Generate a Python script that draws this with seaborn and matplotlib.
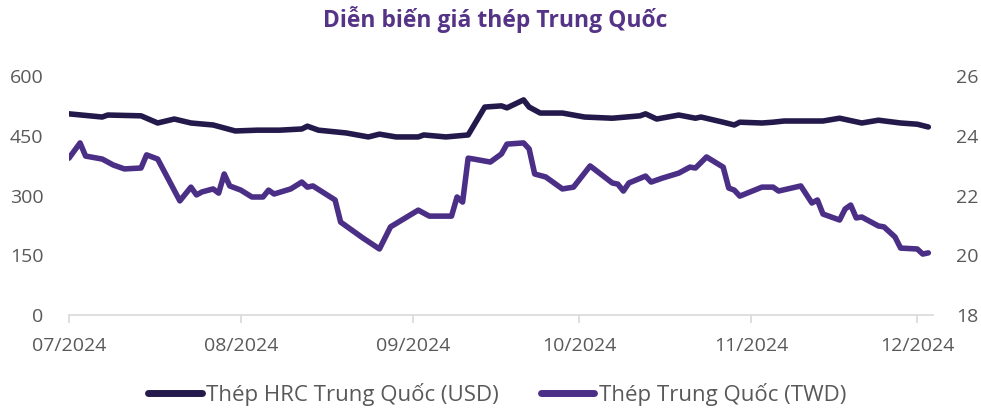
import numpy as np
import pandas as pd
import matplotlib
matplotlib.use("Agg")
import matplotlib.pyplot as plt
import matplotlib.dates as mdates
import seaborn as sns
from matplotlib.lines import Line2D

# ---- data ----
usd_dates = ["2024-07-01", "2024-07-07", "2024-07-08", "2024-07-14", "2024-07-17",
             "2024-07-20", "2024-07-23", "2024-07-27", "2024-07-31", "2024-08-04",
             "2024-08-08", "2024-08-12", "2024-08-13", "2024-08-15", "2024-08-20",
             "2024-08-24", "2024-08-26", "2024-08-29", "2024-09-02", "2024-09-03",
             "2024-09-07", "2024-09-11", "2024-09-14", "2024-09-17", "2024-09-18",
             "2024-09-21", "2024-09-22", "2024-09-24", "2024-09-28", "2024-10-02",
             "2024-10-07", "2024-10-12", "2024-10-13", "2024-10-15", "2024-10-19",
             "2024-10-22", "2024-10-23", "2024-10-27", "2024-10-29", "2024-10-30",
             "2024-11-03", "2024-11-05", "2024-11-07", "2024-11-14", "2024-11-17",
             "2024-11-21", "2024-11-24", "2024-11-28", "2024-12-01", "2024-12-03"]
usd_values = [505, 497, 502, 500, 482,
              492, 482, 477, 462, 464,
              464, 467, 474, 464, 457,
              447, 454, 447, 447, 452,
              447, 452, 522, 525, 520,
              540, 522, 507, 507, 497,
              494, 500, 505, 492, 502,
              494, 497, 484, 477, 484,
              482, 484, 487, 487, 494,
              482, 489, 482, 479, 472]

twd_dates = ["2024-07-01", "2024-07-03", "2024-07-04", "2024-07-07", "2024-07-09",
             "2024-07-11", "2024-07-14", "2024-07-15", "2024-07-17", "2024-07-21",
             "2024-07-23", "2024-07-24", "2024-07-25", "2024-07-27", "2024-07-28",
             "2024-07-29", "2024-07-30", "2024-08-01", "2024-08-03", "2024-08-05",
             "2024-08-06", "2024-08-07", "2024-08-10", "2024-08-12", "2024-08-13",
             "2024-08-14", "2024-08-18", "2024-08-19", "2024-08-23", "2024-08-26",
             "2024-08-28", "2024-09-02", "2024-09-04", "2024-09-08", "2024-09-09",
             "2024-09-10", "2024-09-11", "2024-09-12", "2024-09-15", "2024-09-17",
             "2024-09-18", "2024-09-21", "2024-09-22", "2024-09-23", "2024-09-25",
             "2024-09-28", "2024-09-30", "2024-10-03", "2024-10-07", "2024-10-08",
             "2024-10-09", "2024-10-10", "2024-10-13", "2024-10-14", "2024-10-16",
             "2024-10-19", "2024-10-21", "2024-10-22", "2024-10-24", "2024-10-27",
             "2024-10-28", "2024-10-29", "2024-10-30", "2024-11-03", "2024-11-05",
             "2024-11-06", "2024-11-10", "2024-11-12", "2024-11-13", "2024-11-14",
             "2024-11-17", "2024-11-18", "2024-11-19", "2024-11-20", "2024-11-21",
             "2024-11-24", "2024-11-25", "2024-11-27", "2024-11-28", "2024-12-01",
             "2024-12-02", "2024-12-03"]
twd_values = [23.25, 23.76, 23.32, 23.22, 23.02,
              22.89, 22.92, 23.36, 23.22, 21.82,
              22.28, 22.02, 22.12, 22.22, 22.08,
              22.72, 22.32, 22.18, 21.95, 21.95,
              22.18, 22.05, 22.22, 22.45, 22.28,
              22.32, 21.85, 21.11, 20.58, 20.21,
              20.95, 21.51, 21.31, 21.31, 21.95,
              21.78, 23.25, 23.22, 23.12, 23.39,
              23.72, 23.76, 23.56, 22.72, 22.62,
              22.22, 22.28, 22.99, 22.42, 22.38,
              22.15, 22.42, 22.65, 22.45, 22.58,
              22.75, 22.95, 22.92, 23.29, 22.95,
              22.25, 22.18, 21.98, 22.28, 22.28,
              22.15, 22.32, 21.75, 21.85, 21.38,
              21.18, 21.55, 21.68, 21.25, 21.28,
              20.98, 20.95, 20.61, 20.24, 20.21,
              20.04, 20.08]

left_ticks = [0, 150, 300, 450, 600]
right_ticks = [18, 20, 22, 24, 26]
month_ticks = ["2024-07-01", "2024-08-01", "2024-09-01", "2024-10-01", "2024-11-01", "2024-12-01"]

TITLE = "Diễn biến giá thép Trung Quốc"
LABEL_USD = "Thép HRC Trung Quốc (USD)"
LABEL_TWD = "Thép Trung Quốc (TWD)"

C_USD = "#231a4b"
C_TWD = "#4b2f87"
C_TEXT = "#595959"
LW = 4.0

usd = pd.DataFrame({"date": pd.to_datetime(usd_dates), "value": usd_values})
twd = pd.DataFrame({"date": pd.to_datetime(twd_dates), "value": twd_values})

sns.set_style("white")
plt.rcParams["font.family"] = ["Open Sans", "DejaVu Sans"]

fig = plt.figure(figsize=(9.81, 4.09), dpi=100)
ax = fig.add_axes([0.0703, 0.2298, 0.8807, 0.5844])
ax2 = ax.twinx()

sns.lineplot(data=usd, x="date", y="value", ax=ax, color=C_USD, linewidth=LW,
             solid_joinstyle="round", solid_capstyle="round")
sns.lineplot(data=twd, x="date", y="value", ax=ax2, color=C_TWD, linewidth=LW,
             solid_joinstyle="round", solid_capstyle="round")

ax.set_ylim(0, 600)
ax2.set_ylim(18, 26)
ax.set_yticks(left_ticks)
ax2.set_yticks(right_ticks)
ax.set_xlim(pd.Timestamp("2024-07-01"), pd.Timestamp("2024-12-03 20:00"))
ax.set_xticks(pd.to_datetime(month_ticks))
ax.xaxis.set_major_formatter(mdates.DateFormatter("%m/%Y"))

for a in (ax, ax2):
    a.set_xlabel("")
    a.set_ylabel("")
    for s in a.spines.values():
        s.set_visible(False)
    a.grid(False)

ax.spines["bottom"].set_visible(True)
ax.spines["bottom"].set_color("#d9d9d9")
ax.spines["bottom"].set_linewidth(1.2)

ax.tick_params(axis="x", which="major", bottom=True, length=6, width=1.2, color="#d9d9d9",
               labelsize=14, labelcolor=C_TEXT, pad=10)
ax.tick_params(axis="y", left=False, labelsize=14, labelcolor=C_TEXT, pad=15)
ax2.tick_params(axis="y", right=False, labelsize=14, labelcolor=C_TEXT, pad=13)

fig.text(0.505, 0.953, TITLE, ha="center", va="center", fontsize=16.5,
         fontweight="bold", color="#553487")

handles = [Line2D([0], [0], color=C_USD, linewidth=5, solid_capstyle="round"),
           Line2D([0], [0], color=C_TWD, linewidth=5, solid_capstyle="round")]
fig.legend(handles, [LABEL_USD, LABEL_TWD], loc="center", bbox_to_anchor=(0.507, 0.035),
           ncol=2, frameon=False, fontsize=16, labelcolor=C_TEXT,
           handlelength=2.4, handletextpad=0.2, columnspacing=1.9,
           borderpad=0.0)

fig.savefig("out.png", dpi=100)
